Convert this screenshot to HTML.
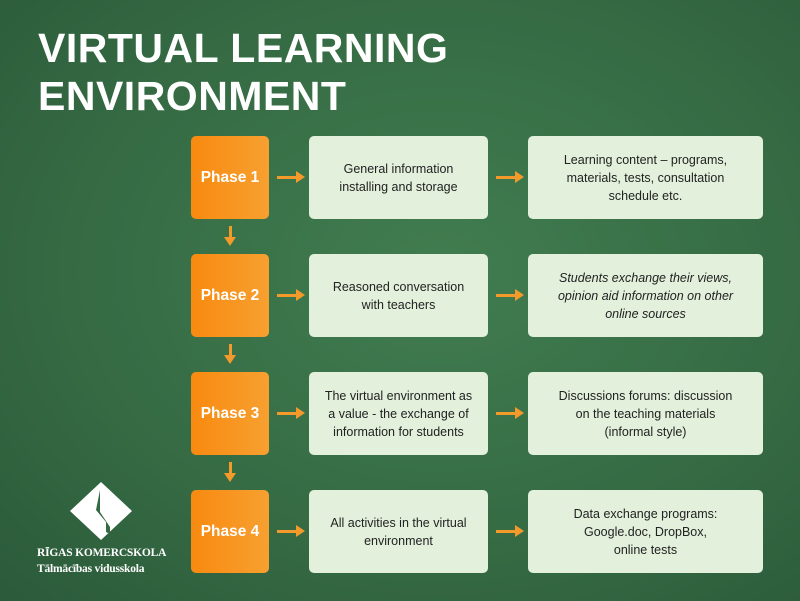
<!DOCTYPE html><html><head><style>
body{margin:0;width:800px;height:601px;overflow:hidden;background:radial-gradient(ellipse at 55% 45%,#417d50,#356a43 60%,#2b5a3a);font-family:"Liberation Sans",sans-serif;position:relative}
.t{position:absolute;left:38px;top:24px;color:#fff;font-weight:bold;font-size:41px;line-height:48px;letter-spacing:0.5px}
.p{position:absolute;left:191px;width:78px;height:83px;border-radius:5px;background:linear-gradient(90deg,#f88a10,#f7a030);color:#fff;font-weight:bold;font-size:15.5px;display:flex;align-items:center;justify-content:center}
.b{position:absolute;height:83px;border-radius:5px;background:#e3f0dc;color:#222;font-size:12.5px;line-height:18px;text-align:center;display:flex;align-items:center;justify-content:center;box-sizing:border-box;white-space:nowrap}
.m{left:309px;width:179px}.r{left:528px;width:235px}
.ha{position:absolute;height:3px;width:20px;background:#f39a2a}
.ha:after{content:"";position:absolute;right:-8px;top:-5px;border-left:9px solid #f39a2a;border-top:6.5px solid transparent;border-bottom:6.5px solid transparent}
.va{position:absolute;left:229px;width:3px;height:12px;background:#f39a2a}
.va:after{content:"";position:absolute;left:-5px;bottom:-8px;border-top:9px solid #f39a2a;border-left:6.5px solid transparent;border-right:6.5px solid transparent}
.logo{position:absolute;left:37px;top:545px;color:#fff;font-family:"Liberation Serif",serif;font-size:11.5px;line-height:16px;font-weight:bold;letter-spacing:-0.2px}
</style></head><body>
<div class="t">VIRTUAL LEARNING<br>ENVIRONMENT</div>
<div class="p" style="top:136px">Phase 1</div>
<div class="p" style="top:254px">Phase 2</div>
<div class="p" style="top:372px">Phase 3</div>
<div class="p" style="top:490px">Phase 4</div>
<div class="b m" style="top:136px">General information<br>installing and storage</div>
<div class="b m" style="top:254px">Reasoned conversation<br>with teachers</div>
<div class="b m" style="top:372px">The virtual environment as<br>a value - the exchange of<br>information for students</div>
<div class="b m" style="top:490px">All activities in the virtual<br>environment</div>
<div class="b r" style="top:136px">Learning content – programs,<br>materials, tests, consultation<br>schedule etc.</div>
<div class="b r" style="top:254px;font-style:italic">Students exchange their views,<br>opinion aid information on other<br>online sources</div>
<div class="b r" style="top:372px">Discussions forums: discussion<br>on the teaching materials<br>(informal style)</div>
<div class="b r" style="top:490px">Data exchange programs:<br>Google.doc, DropBox,<br>online tests</div>
<div class="ha" style="left:277px;top:176px"></div><div class="ha" style="left:496px;top:176px"></div>
<div class="ha" style="left:277px;top:294px"></div><div class="ha" style="left:496px;top:294px"></div>
<div class="ha" style="left:277px;top:412px"></div><div class="ha" style="left:496px;top:412px"></div>
<div class="ha" style="left:277px;top:530px"></div><div class="ha" style="left:496px;top:530px"></div>
<div class="va" style="top:226px"></div><div class="va" style="top:344px"></div><div class="va" style="top:462px"></div>
<svg style="position:absolute;left:70px;top:482px" width="62" height="58"><polygon points="31,0 62,29 31,58 0,29" fill="#fff"/><path d="M30,8 L30,30 L40,45 L40,52 L36,50 L36,40 L26,28 Z" fill="#356a43"/></svg>
<div class="logo">RĪGAS KOMERCSKOLA<br>Tālmācības vidusskola</div>
</body></html>
